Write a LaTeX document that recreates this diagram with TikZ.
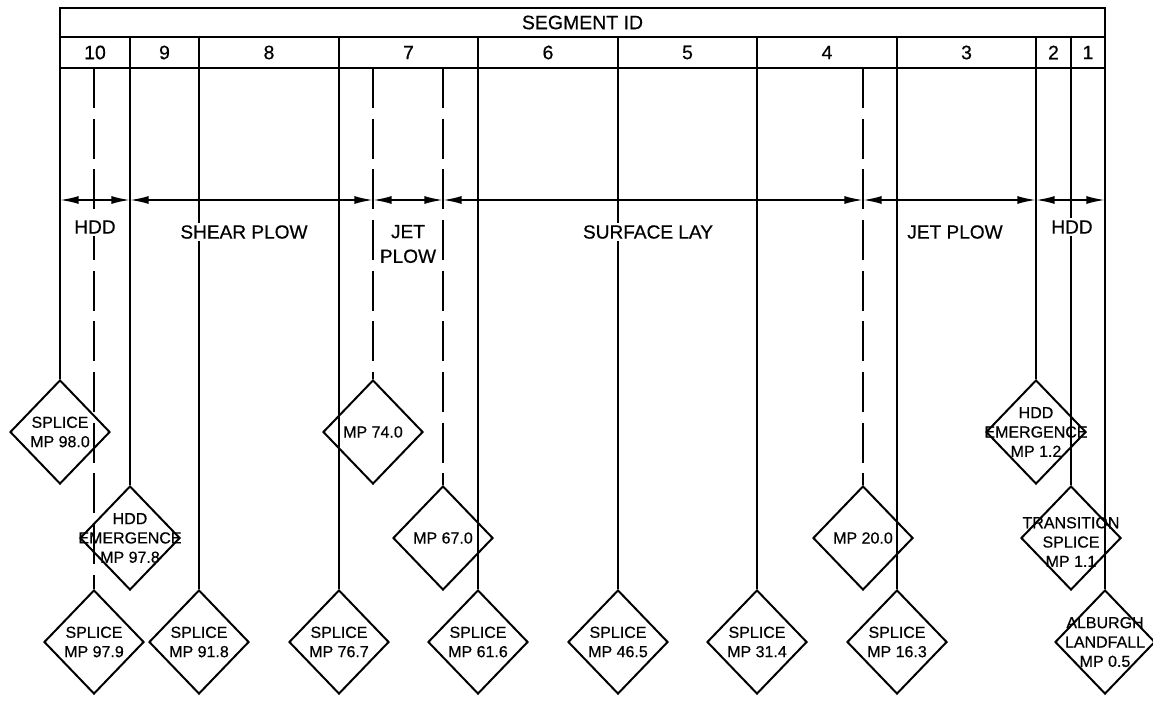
\documentclass[tikz,border=0pt]{standalone}
\usepackage{fontspec}
\setmainfont{Liberation Sans}[FakeBold=0.5]
\usetikzlibrary{shapes.geometric,arrows.meta}
\begin{document}
\begin{tikzpicture}[x=0.75pt,y=-0.75pt,
  tbl/.style={line width=1.7pt},
  vline/.style={line width=1.35pt},
  dline/.style={line width=1.35pt, dash pattern=on 30pt off 8pt},
  dia/.style={draw, diamond, line width=1.5pt, minimum width=75pt, minimum height=78pt, inner sep=0pt},
  dtxt/.style={align=center, font=\fontsize{12}{14.5}\selectfont, inner sep=0pt},
  hdr/.style={font=\fontsize{14.6}{17}\selectfont, inner sep=0pt},
  lbl/.style={font=\fontsize{14.3}{18.5}\selectfont, fill=white, inner sep=1.5pt, align=center},
  dim/.style={line width=1.35pt, {Latex[length=14pt,width=6pt]}-{Latex[length=14pt,width=6pt]}}
]
\useasboundingbox (0,0) rectangle (1153,700);

% table
\draw[tbl] (60,8) rectangle (1105,68);
\draw[tbl] (60,37) -- (1105,37);
\node[hdr] (hid) at (582.5,22.5) {SEGMENT ID};
\node[hdr] (h10) at (95,52.5) {10};
\node[hdr] (h9) at (164.5,52.5) {9};
\node[hdr] (h8) at (269,52.5) {8};
\node[hdr] (h7) at (408.5,52.5) {7};
\node[hdr] (h6) at (548,52.5) {6};
\node[hdr] (h5) at (687.5,52.5) {5};
\node[hdr] (h4) at (827,52.5) {4};
\node[hdr] (h3) at (966.5,52.5) {3};
\node[hdr] (h2) at (1053.5,52.5) {2};
\node[hdr] (h1) at (1088,52.5) {1};

% line tops
\foreach \x in {60,130,199,339,478,618,757,897,1036,1071,1105}
  \coordinate (s\x) at (\x,37);
\foreach \x in {94,373,443,863}
  \coordinate (q\x) at (\x,68);

% diamonds
\node[dia] (d1) at (60,432) {};
\node[dia] (d2) at (94,642) {};
\node[dia] (d3) at (130,538) {};
\node[dia] (d4) at (199,642) {};
\node[dia] (d5) at (339,642) {};
\node[dia] (d6) at (373,432) {};
\node[dia] (d7) at (443,538) {};
\node[dia] (d8) at (478,642) {};
\node[dia] (d9) at (618,642) {};
\node[dia] (d10) at (757,642) {};
\node[dia] (d11) at (863,538) {};
\node[dia] (d12) at (897,642) {};
\node[dia] (d13) at (1036,432) {};
\node[dia] (d14) at (1071,538) {};
\node[dia] (d15) at (1105,642) {};

\node[dtxt] (t1) at (d1) {SPLICE\\MP 98.0};
\node[dtxt] (t2) at (d2) {SPLICE\\MP 97.9};
\node[dtxt] (t3) at (d3) {HDD\\EMERGENCE\\MP 97.8};
\node[dtxt] (t4) at (d4) {SPLICE\\MP 91.8};
\node[dtxt] (t5) at (d5) {SPLICE\\MP 76.7};
\node[dtxt] (t6) at (d6) {MP 74.0};
\node[dtxt] (t7) at (d7) {MP 67.0};
\node[dtxt] (t8) at (d8) {SPLICE\\MP 61.6};
\node[dtxt] (t9) at (d9) {SPLICE\\MP 46.5};
\node[dtxt] (t10) at (d10) {SPLICE\\MP 31.4};
\node[dtxt] (t11) at (d11) {MP 20.0};
\node[dtxt] (t12) at (d12) {SPLICE\\MP 16.3};
\node[dtxt] (t13) at (d13) {HDD\\EMERGENCE\\MP 1.2};
\node[dtxt] (t14) at ([yshift=-3pt]d14) {TRANSITION\\SPLICE\\MP 1.1};
\node[dtxt] (t15) at (d15) {ALBURGH\\LANDFALL\\MP 0.5};

% vertical connectors
\draw[vline] (s60) -- (d1.north);
\draw[dline] (q94) -- (d2.north);
\draw[vline] (s130) -- (d3.north);
\draw[vline] (s199) -- (d4.north);
\draw[vline] (s339) -- (d5.north);
\draw[dline] (q373) -- (d6.north);
\draw[dline] (q443) -- (d7.north);
\draw[vline] (s478) -- (d8.north);
\draw[vline] (s618) -- (d9.north);
\draw[vline] (s757) -- (d10.north);
\draw[dline] (q863) -- (d11.north);
\draw[vline] (s897) -- (d12.north);
\draw[vline] (s1036) -- (d13.north);
\draw[vline] (s1071) -- (d14.north);
\draw[vline] (s1105) -- (d15.north);

% dimension arrows
\foreach \x in {60,130,373,443,863,1036,1105}
  \coordinate (a\x) at (\x,200);
\draw[dim] (a60) -- (a130);
\draw[dim] (a130) -- (a373);
\draw[dim] (a373) -- (a443);
\draw[dim] (a443) -- (a863);
\draw[dim] (a863) -- (a1036);
\draw[dim] (a1036) -- (a1105);

% method labels
\node[lbl] (m1) at (95,227) {HDD};
\node[lbl] (m2) at (244,232) {SHEAR PLOW};
\node[lbl, inner sep=0.5pt] (m3) at (408,244) {JET\\PLOW};
\node[lbl] (m4) at (648,232) {SURFACE LAY};
\node[lbl] (m5) at (955,232) {JET PLOW};
\node[lbl] (m6) at (1072,227) {HDD};
\end{tikzpicture}
\end{document}
